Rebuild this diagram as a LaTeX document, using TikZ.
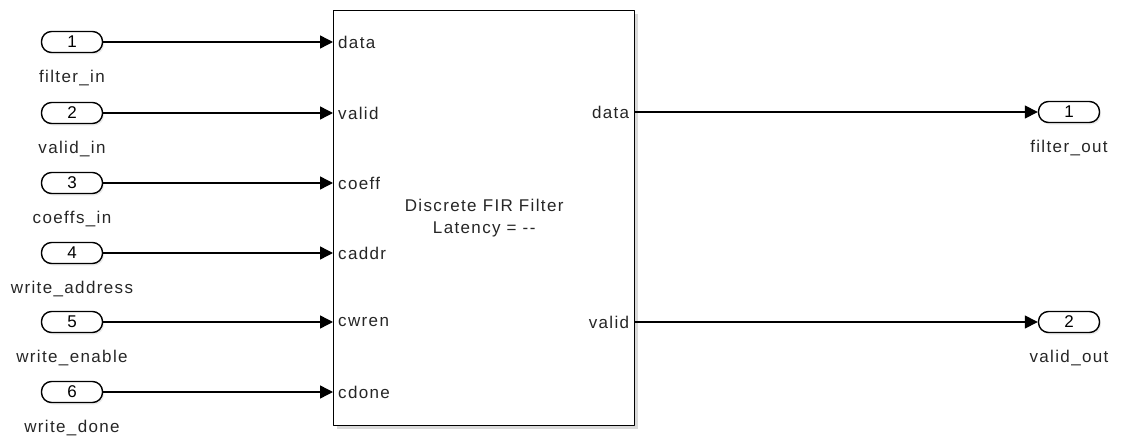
\documentclass[tikz,border=0pt]{standalone}
\usepackage{fontspec}
\setmainfont{Liberation Sans}[LetterSpace=8]
\usetikzlibrary{arrows.meta,positioning,calc,shadows}

\begin{document}
\begin{tikzpicture}[
			x=1pt,
			y=-1pt,
			line cap=round,
			line join=round,
			font=\fontsize{17}{20}\selectfont,
			txt/.style={text=black!85, inner sep=0pt},
			port/.style={draw, line width=1.4pt, rounded corners=10pt, minimum width=61pt,
				minimum height=21pt, inner sep=0pt, fill=white,
				drop shadow={opacity=.15, shadow xshift=1.5pt, shadow yshift=-2pt}},
			fir/.style={draw, line width=1.4pt, fill=white, align=center,
				minimum width=301pt, minimum height=415pt, anchor=north west,
				drop shadow={opacity=.3, shadow xshift=3pt, shadow yshift=-3pt}},
			sig/.style={line width=1.4pt, -{Triangle[length=13pt,width=13pt]}}
			]
			
			\useasboundingbox (0,0) rectangle (1128,436);
			
			%------------------------------
			% The filter block
			%------------------------------
			\node[fir, txt] (filt) at (333,10)
				{Discrete FIR Filter\\[2pt]Latency = -{}-};
			
			%------------------------------
			% Inports and their signals
			%------------------------------
			\foreach \i/\y/\name/\pin in {
				1/42/filter\_in/data,
				2/113/valid\_in/valid,
				3/183/coeffs\_in/coeff,
				4/253/write\_address/caddr,
				5/322/write\_enable/cwren,
				6/392/write\_done/cdone}{
				\node[port] (in\i) at (72,\y) {\i};
				\node[txt] (in\i name) at ($(in\i)+(0,36)$) {\name};
				\node[txt, anchor=west, xshift=5pt] (pin\i) at (filt.west |- in\i) {\pin};
				\draw[sig] (in\i) -- (in\i -| filt.west);
			}
			
			%------------------------------
			% Outports and their signals
			%------------------------------
			\foreach \i/\y/\name/\pin in {
				1/112/filter\_out/data,
				2/322/valid\_out/valid}{
				\node[port] (out\i) at (1069,\y) {\i};
				\node[txt] (out\i name) at ($(out\i)+(0,36)$) {\name};
				\node[txt, anchor=east, xshift=-6pt] (pout\i) at (filt.east |- out\i) {\pin};
				\draw[sig] (out\i -| filt.east) -- (out\i);
			}
		\end{tikzpicture}
\end{document}
